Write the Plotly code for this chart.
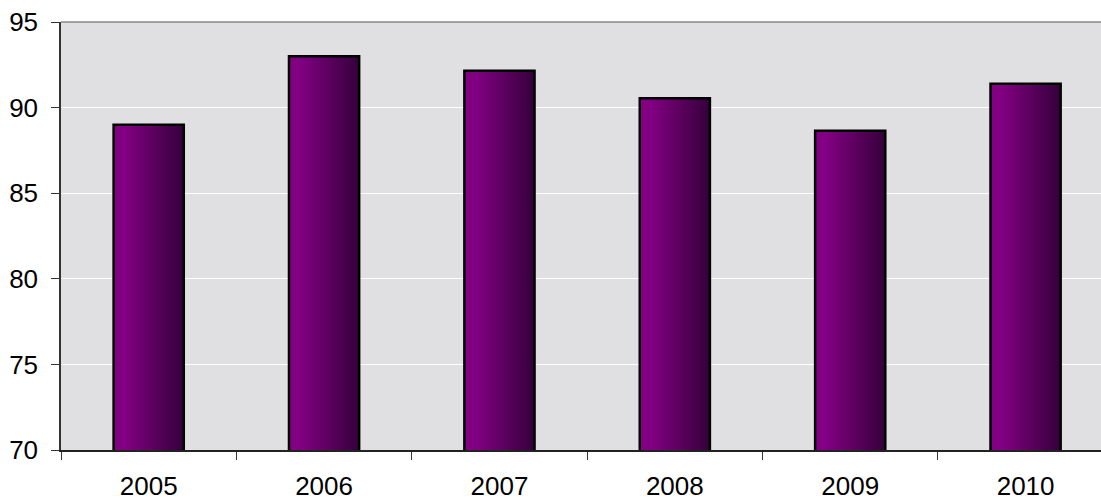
import plotly.graph_objects as go

years = ["2005", "2006", "2007", "2008", "2009", "2010"]
values = [89.0, 93.0, 92.15, 90.55, 88.65, 91.4]
y_ticks = [70, 75, 80, 85, 90, 95]

BAR_W = 0.4
N = 40
c0 = (0x82, 0x00, 0x82)
c1 = (0x36, 0x00, 0x3c)

fig = go.Figure()
sw = BAR_W / N
for i in range(N):
    t = i / (N - 1)
    tt = max(0.0, (t - 0.15) / 0.85)
    col = tuple(int(round(c0[k] + (c1[k] - c0[k]) * tt)) for k in range(3))
    w = sw * 1.6 if i < N - 1 else sw
    fig.add_trace(go.Bar(
        x=years, y=values,
        width=w, offset=-BAR_W / 2 + i * sw,
        marker=dict(color="rgb(%d,%d,%d)" % col, line=dict(width=0)),
        showlegend=False, hoverinfo="skip",
    ))
fig.add_trace(go.Bar(
    x=years, y=values, width=BAR_W, offset=-BAR_W / 2,
    marker=dict(color="rgba(0,0,0,0)", line=dict(color="black", width=2.5)),
    showlegend=False,
))

fig.update_layout(
    width=1101, height=502,
    margin=dict(l=61, r=0, t=22, b=52),
    barmode="overlay",
    paper_bgcolor="white",
    plot_bgcolor="#e0e0e2",
    font=dict(family="Liberation Sans, Arial, sans-serif", size=26, color="black"),
    xaxis=dict(
        type="category", range=[-0.5, 5.43],
        tickson="boundaries", ticks="outside", ticklen=8, tickcolor="#333",
        showline=True, linecolor="#222", linewidth=1.5,
        showgrid=False, tickfont=dict(size=26), ticklabelstandoff=12,
    ),
    yaxis=dict(
        range=[70, 95], tickvals=y_ticks, ticks="outside", ticklen=8,
        tickcolor="#333", showline=True, linecolor="#333", linewidth=1.5,
        showgrid=True, gridcolor="white", gridwidth=1,
        tickfont=dict(size=26), zeroline=False, ticklabelstandoff=8,
    ),
)
fig.add_shape(type="line", xref="paper", yref="paper", x0=0, x1=1, y0=1, y1=1,
              line=dict(color="#888", width=1.5))

fig.write_html("out.html", config={"displayModeBar": False})
with open("out.html", encoding="utf-8") as f:
    html = f.read()
html = html.replace("<head>", "<head><style>html,body{margin:0;padding:0;overflow:hidden}</style>", 1)
with open("out.html", "w", encoding="utf-8") as f:
    f.write(html)
